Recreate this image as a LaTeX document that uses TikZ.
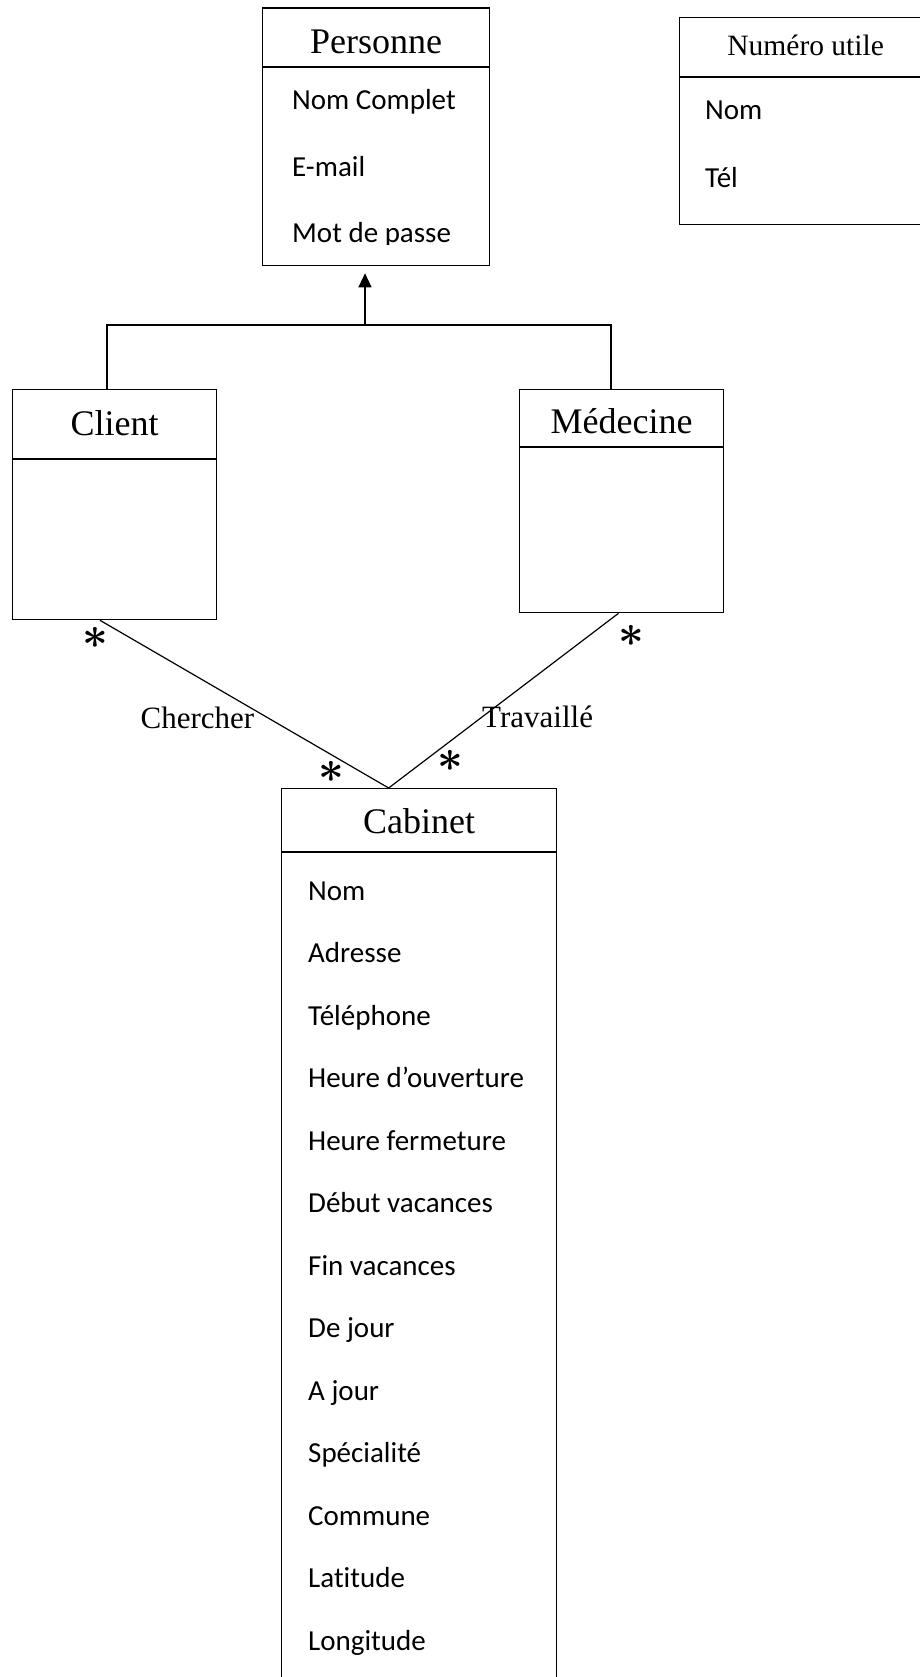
\documentclass[tikz,border=0pt]{standalone}
\usepackage{fontspec}
\usepackage{bm}
\setmainfont{Liberation Serif}
\newfontfamily\attrfont[Ligatures=NoCommon]{Carlito}
\usetikzlibrary{arrows.meta,positioning}

\tikzset{
  classhead/.style={draw, line width=1.3pt, inner sep=0pt, anchor=north west,
    font=\fontsize{36}{40}\selectfont},
  classbody/.style={draw, line width=1pt, inner sep=0pt, anchor=north west},
  attr/.style={anchor=base west, inner sep=0pt, font=\attrfont\fontsize{29}{32}\selectfont},
  mult/.style={anchor=base, inner sep=0pt, font=\fontsize{24.88}{25}\selectfont},
  assoc/.style={anchor=base west, inner sep=0pt, font=\fontsize{31}{34}\selectfont},
  link/.style={line width=1.2pt}
}
\newcommand{\manystar}{\scalebox{1.8}{$\bm{\ast}$}}

\begin{document}
\begin{tikzpicture}[x=1pt,y=-1pt]
    \clip (0,0) rectangle (920,1677);
    \fill[white] (0,0) rectangle (920,1677);

    % Personne
    \node[classhead, minimum width=227pt, text height=45.8pt, text depth=12.7pt] (personneHead) at (262,7.5) {Personne};
    \node[classbody, minimum width=227pt, minimum height=198pt] (personneBody) at (personneHead.south west) {};
    \begin{scope}
        \clip (262,66) rectangle (489,245);
        \node[attr] (nomComplet) at (292,110) {Nom Complet};
        \node[attr] (email) at (292,176.5) {E-mail};
        \node[attr] (motPasse) at (292,243) {Mot de passe};
    \end{scope}

    % Numero utile
    \node[classhead, minimum width=252pt, text height=38pt, text depth=21pt,
          font=\fontsize{29.5}{32}\selectfont] (numeroHead) at (679,17) {Numéro utile};
    \node[classbody, minimum width=252pt, minimum height=146.5pt] (numeroBody) at (numeroHead.south west) {};
    \node[attr] (numeroNom) at (705,120) {Nom};
    \node[attr] (numeroTel) at (705,188) {Tél};

    % Client
    \node[classhead, minimum width=204pt, text height=46pt, text depth=23pt] (clientHead) at (12,389) {Client};
    \node[classbody, minimum width=204pt, minimum height=160pt] (clientBody) at (clientHead.south west) {};

    % Medecine
    \node[classhead, minimum width=204pt, text height=44.3pt, text depth=12.7pt] (medecineHead) at (519,389) {Médecine};
    \node[classbody, minimum width=204pt, minimum height=165pt] (medecineBody) at (medecineHead.south west) {};

    % Cabinet
    \node[classhead, minimum width=275pt, text height=45.3pt, text depth=17.2pt] (cabinetHead) at (281,788) {Cabinet};
    \node[classbody, minimum width=275pt, minimum height=840pt] (cabinetBody) at (cabinetHead.south west) {};
    \foreach \attr [count=\i from 0] in {Nom, Adresse, Téléphone, Heure d’ouverture, Heure fermeture,
        Début vacances, Fin vacances, De jour, A jour, Spécialité, Commune, Latitude, Longitude}
        \node[attr] (cabAttr\i) at (308,{900+62.5*\i}) {\attr};

    % Generalisation
    \coordinate (genL) at (107,325);
    \coordinate (genR) at (611,325);
    \coordinate (genM) at (365,325);
    \draw[link] (clientHead.north -| genL) -- (genL) -- (genR) -- (medecineHead.north -| genR);
    \draw[link, -{Triangle[width=13pt,length=14pt]}] (genM) -- ([yshift=-7pt]personneBody.south -| genM);

    % Associations
    \draw[link] ([xshift=-14.5pt]clientBody.south) -- ([xshift=-30.5pt]cabinetHead.north);
    \draw[link] ([xshift=-3pt]medecineBody.south) -- ([xshift=-30.5pt]cabinetHead.north);
    \node[assoc] (chercher) at (140.5,728) {Chercher};
    \node[assoc] (travaille) at (482,727) {Travaillé};

    % Multiplicities
    \node[mult] (multClient) at (95,648) {\manystar};
    \node[mult] (multCabL) at (331,782) {\manystar};
    \node[mult] (multCabR) at (450,771) {\manystar};
    \node[mult] (multMed) at (631,646) {\manystar};
\end{tikzpicture}
\end{document}
